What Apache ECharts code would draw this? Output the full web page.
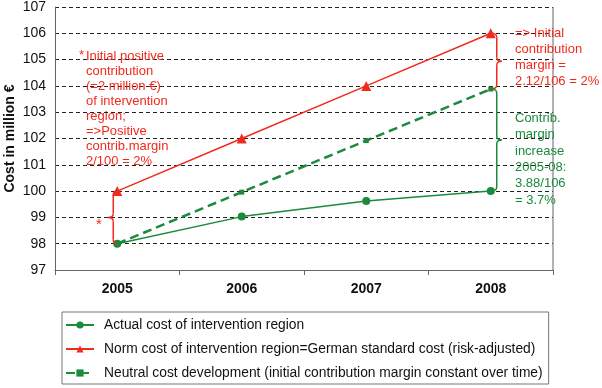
<!DOCTYPE html>
<html><head><meta charset="utf-8">
<script src="https://cdn.jsdelivr.net/npm/echarts@6/dist/echarts.min.js"></script>
<style>html,body{margin:0;padding:0;background:#fff}#c{width:602px;height:388px}</style>
</head><body><div id="c"></div>
<script>
const years = ['2005','2006','2007','2008'];
const actualCost = [98, 99.03, 99.62, 100];
const normCost = [100, 102, 104, 106];
const neutralCost = [98, 99.96, 101.92, 103.88];
const yTicks = {min: 97, max: 107, interval: 1};
const seriesNames = [
  'Actual cost of intervention region',
  'Norm cost of intervention region=German standard cost (risk-adjusted)',
  'Neutral cost development (initial contribution margin constant over time)'
];
const RED = '#f22a1e', GREEN = '#1b8a3c';
const FONT = '"Liberation Sans", Arial, sans-serif';

const chart = echarts.init(document.getElementById('c'), null, {renderer: 'canvas'});
chart.setOption({
  animation: false,
  grid: {left: 55, right: 49, top: 7, bottom: 118, show: false, containLabel: false, outerBoundsMode: 'none'},
  xAxis: {
    type: 'category', data: years, boundaryGap: true,
    axisLine: {lineStyle: {color: '#666', width: 1}},
    axisTick: {show: true, length: 5, alignWithLabel: false, lineStyle: {color: '#666'}},
    axisLabel: {fontFamily: FONT, fontSize: 14, fontWeight: 'bold', color: '#111', margin: 12}
  },
  yAxis: {
    type: 'value', min: yTicks.min, max: yTicks.max, interval: yTicks.interval,
    name: 'Cost in million €', nameLocation: 'middle', nameGap: 38, nameMoveOverlap: false,
    nameTextStyle: {fontFamily: FONT, fontSize: 14, fontWeight: 'bold', color: '#111'},
    axisLine: {show: true, lineStyle: {color: '#666'}},
    axisTick: {show: false},
    axisLabel: {fontFamily: FONT, fontSize: 14, color: '#111', margin: 9},
    splitLine: {show: true, lineStyle: {color: '#222', type: [4, 3], width: 1}}
  },
  legend: {
    orient: 'vertical', left: 62, top: 312,
    data: seriesNames,
    borderColor: '#777', borderWidth: 1, padding: [6, 6, 4, 3],
    itemGap: 10, itemWidth: 28, itemHeight: 9,
    textStyle: {fontFamily: FONT, fontSize: 13.8, color: '#111', padding: [0, 0, 0, 5]}
  },
  series: [
    {name: seriesNames[0], type: 'line', data: actualCost, symbol: 'circle', symbolSize: 8,
     color: GREEN, lineStyle: {width: 1.5, color: GREEN}, itemStyle: {color: GREEN}, z: 3},
    {name: seriesNames[1], type: 'line', data: normCost, symbol: 'triangle', symbolSize: 10,
     color: RED, lineStyle: {width: 1.5, color: RED}, itemStyle: {color: RED}, z: 4},
    {name: seriesNames[2], type: 'line', data: neutralCost, symbol: 'rect', symbolSize: 5,
     color: GREEN, lineStyle: {width: 2.5, color: GREEN, type: [9, 5]}, itemStyle: {color: GREEN}, z: 2}
  ]
});

function px(i, v) { return chart.convertToPixel({xAxisIndex: 0, yAxisIndex: 0}, [i, v]); }
function brace(x, px0, y1, y2, dir, color) {
  const r = 4, ym = (y1 + y2) / 2, t = 5;
  const st = {stroke: color, fill: null, lineWidth: 1.5};
  const curve = (x1, y1_, x2, y2_, cx, cy) => ({type: 'bezierCurve', shape: {x1: x1, y1: y1_, x2: x2, y2: y2_, cpx1: cx, cpy1: cy}, style: st, z: 10});
  const line = (x1, y1_, x2, y2_) => ({type: 'line', shape: {x1: x1, y1: y1_, x2: x2, y2: y2_}, style: st, z: 10});
  return [
    curve(px0, y1, x, y1 + r, x, y1),
    line(x, y1 + r, x, ym - r),
    curve(x, ym - r, x + dir * t, ym, x, ym),
    curve(x + dir * t, ym, x, ym + r, x, ym),
    line(x, ym + r, x, y2 - r),
    curve(x, y2 - r, px0, y2, x, y2)
  ];
}
const a0 = px(0, actualCost[0]), n0 = px(0, normCost[0]);
const a3 = px(3, actualCost[3]), n3 = px(3, normCost[3]), u3 = px(3, neutralCost[3]);
const xc3 = chart.convertToPixel({xAxisIndex: 0}, 3), xc2 = chart.convertToPixel({xAxisIndex: 0}, 2);
const plotRight = xc3 + (xc3 - xc2) / 2;

const redText = ['Initial positive', 'contribution', '(=2 million €)', 'of intervention', 'region;', '=>Positive', 'contrib.margin', '2/100 = 2%'].join('\n');
let g = [
  {type: 'line', shape: {x1: plotRight, y1: px(0, 107)[1], x2: plotRight, y2: px(0, 97)[1]}, style: {stroke: '#666', lineWidth: 1}, z: 1},
  {type: 'text', left: 96, top: 217, style: {text: '*', fill: RED, font: `15px ${FONT}`}, z: 10},
  {type: 'text', left: 79, top: 49, style: {text: '*', fill: RED, font: `13px ${FONT}`}, z: 10},
  {type: 'text', left: 86, top: 49, style: {text: redText, fill: RED, font: `13px ${FONT}`, lineHeight: 15}, z: 10},
  {type: 'text', left: 515, top: 25, style: {text: '=> Initial\ncontribution\nmargin =\n2.12/106 = 2%', fill: RED, font: `13px ${FONT}`, lineHeight: 16}, z: 10},
  {type: 'text', left: 515, top: 110, style: {text: 'Contrib.\nmargin\nincrease\n2005-08:\n3.88/106\n= 3.7%', fill: GREEN, font: `13px ${FONT}`, lineHeight: 16.4}, z: 10}
];
g = g.concat(brace(a0[0] - 4, a0[0], n0[1], a0[1], -1, RED));
g = g.concat(brace(n3[0] + 6, n3[0], n3[1], u3[1], 1, RED));
g = g.concat(brace(u3[0] + 6, u3[0], u3[1], a3[1], 1, GREEN));
chart.setOption({graphic: g});
</script></body></html>
